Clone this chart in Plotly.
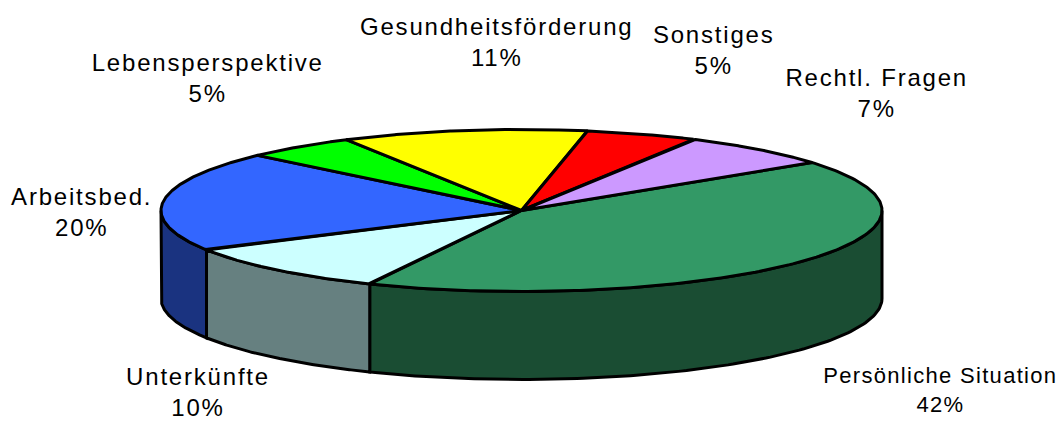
import numpy as np
import plotly.graph_objects as go

categories = ["Persönliche Situation", "Unterkünfte", "Arbeitsbed.", "Lebensperspektive",
              "Gesundheitsförderung", "Sonstiges", "Rechtl. Fragen"]
values = [42, 10, 20, 5, 11, 5, 7]
top_colors = ["#339966", "#CCFFFF", "#3366FF", "#00FF00", "#FFFF00", "#FF0000", "#CC99FF"]
side_colors = ["#1A4D33", "#668080", "#1A3380", "#008000", "#808000", "#800000", "#664D80"]
label_x = [940, 198, 81, 207, 497, 713, 876]
label_y = [390, 392, 212, 78, 42, 50, 93]
label_size = [22, 24, 24, 24, 24, 24, 24]

CX, CY, RX, RY, DEPTH = 521.5, 210.5, 360.5, 81, 88
START = 53.7


def pt(theta, dy=0.0):
    t = np.radians(theta)
    return CX + RX * np.sin(t), CY - RY * np.cos(t) + dy


edges = START + np.cumsum([0] + values) * 3.6
fig = go.Figure()
line = dict(color="black", width=3)

# front walls (only the part of the rim facing the viewer)
for a, b, c in zip(edges[:-1], edges[1:], side_colors):
    lo, hi = max(a, 90), min(b, 270)
    if lo >= hi:
        continue
    th = np.linspace(lo, hi, 120)
    x1, y1 = pt(th)
    x2, y2 = pt(th[::-1], DEPTH)
    fig.add_trace(go.Scatter(x=np.r_[x1, x2, x1[0]], y=np.r_[y1, y2, y1[0]], mode="lines",
                             fill="toself", fillcolor=c, line=line, hoverinfo="skip"))

# top face wedges
for a, b, c, name, v in zip(edges[:-1], edges[1:], top_colors, categories, values):
    th = np.linspace(a, b, 200)
    x, y = pt(th)
    fig.add_trace(go.Scatter(x=np.r_[CX, x, CX], y=np.r_[CY, y, CY], mode="lines",
                             fill="toself", fillcolor=c, line=line, name=name,
                             text=f"{name}: {v}%", hoverinfo="text"))

annotations = [
    dict(x=x, y=y, xref="x", yref="y", text=f"{n}<br>{v}%", showarrow=False,
         font=dict(family="Liberation Sans, Arial, sans-serif", size=s, color="black"),
         align="center", xanchor="center", yanchor="middle")
    for n, v, x, y, s in zip(categories, values, label_x, label_y, label_size)
]

fig.update_layout(
    width=1061, height=421, margin=dict(l=0, r=0, t=0, b=0), showlegend=False,
    paper_bgcolor="white", plot_bgcolor="white", annotations=annotations,
    xaxis=dict(range=[0, 1061], visible=False, fixedrange=True),
    yaxis=dict(range=[421, 0], visible=False, fixedrange=True),
)
page_css = """
var s = document.createElement('style');
s.textContent = 'html,body{margin:0;padding:0;overflow:hidden}'
  + '.annotation-text{letter-spacing:1.8px}'
  + '.annotation[data-index="0"] .annotation-text{letter-spacing:1.3px}';
document.head.appendChild(s);
"""
fig.write_html("out.html", config=dict(displayModeBar=False), post_script=page_css)
